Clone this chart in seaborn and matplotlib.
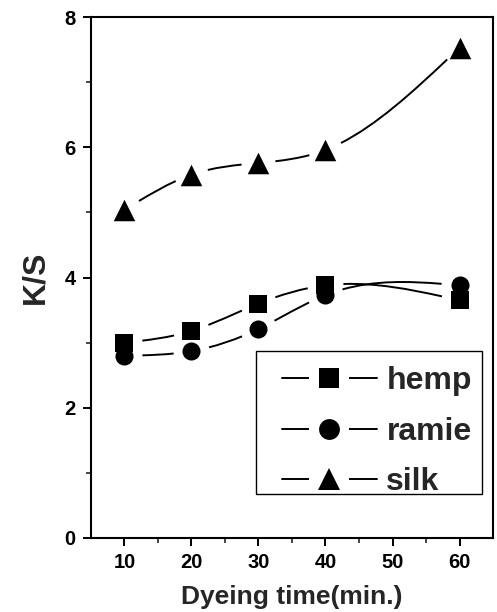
import numpy as np
import pandas as pd
import matplotlib
matplotlib.use("Agg")
import matplotlib.pyplot as plt
import seaborn as sns
from matplotlib.path import Path
from matplotlib.patches import PathPatch, Rectangle
from matplotlib.lines import Line2D
from matplotlib.legend_handler import HandlerTuple

# ---- data ----
time = [10, 20, 30, 40, 60]
hemp = [3.00, 3.18, 3.60, 3.88, 3.65]
ramie = [2.80, 2.87, 3.21, 3.73, 3.88]
silk = [5.04, 5.58, 5.76, 5.96, 7.53]
series_names = ["hemp", "ramie", "silk"]
x_ticks = [10, 20, 30, 40, 50, 60]
y_ticks = [0, 2, 4, 6, 8]

sns.set_theme(style="ticks")
plt.rcParams["font.family"] = ["Liberation Sans", "DejaVu Sans"]
plt.rcParams["font.weight"] = "bold"

fig = plt.figure(figsize=(4.97, 6.12), dpi=100)
ax = fig.add_axes([0.183, 0.121, 0.809, 0.851])
ax.set_xlim(5, 65)
ax.set_ylim(0, 8)


def spline_slopes(x, y):
    x = np.asarray(x, float)
    y = np.asarray(y, float)
    n = len(x)
    h = np.diff(x)
    d = np.diff(y) / h
    A = np.zeros((n, n))
    b = np.zeros(n)
    A[0, 0] = 1
    A[-1, -1] = 1
    for i in range(1, n - 1):
        A[i, i - 1] = h[i - 1]
        A[i, i] = 2 * (h[i - 1] + h[i])
        A[i, i + 1] = h[i]
        b[i] = 6 * (d[i] - d[i - 1])
    M = np.linalg.solve(A, b)
    m = np.empty(n)
    m[:-1] = d - h * (2 * M[:-1] + M[1:]) / 6
    m[-1] = d[-1] + h[-1] * (M[-2] + 2 * M[-1]) / 6
    return m


def split_bezier(P, t):
    P = np.asarray(P, float)
    a = P[:-1] * (1 - t) + P[1:] * t
    b = a[:-1] * (1 - t) + a[1:] * t
    c = b[:-1] * (1 - t) + b[1:] * t
    left = np.array([P[0], a[0], b[0], c[0]])
    right = np.array([c[0], b[1], a[2], P[3]])
    return left, right


def bezier_param_at(Pdisp, dist, from_end=False):
    ts = np.linspace(0, 1, 201)[:, None]
    B = ((1 - ts) ** 3 * Pdisp[0] + 3 * (1 - ts) ** 2 * ts * Pdisp[1]
         + 3 * (1 - ts) * ts ** 2 * Pdisp[2] + ts ** 3 * Pdisp[3])
    seg = np.hypot(*np.diff(B, axis=0).T)
    cum = np.concatenate([[0], np.cumsum(seg)])
    target = cum[-1] - dist if from_end else dist
    return float(np.interp(target, cum, ts[:, 0]))


def spline_segments(x, y, gap_px, lw):
    m = spline_slopes(x, y)
    verts, codes = [], []
    for i in range(len(x) - 1):
        h = x[i + 1] - x[i]
        P = np.array([(x[i], y[i]),
                      (x[i] + h / 3, y[i] + m[i] * h / 3),
                      (x[i + 1] - h / 3, y[i + 1] - m[i + 1] * h / 3),
                      (x[i + 1], y[i + 1])])
        Pd = ax.transData.transform(P)
        t0 = bezier_param_at(Pd, gap_px)
        t1 = bezier_param_at(Pd, gap_px, from_end=True)
        left, _ = split_bezier(P, t1)
        _, sub = split_bezier(left, t0 / t1)
        verts += [tuple(p) for p in sub]
        codes += [Path.MOVETO, Path.CURVE4, Path.CURVE4, Path.CURVE4]
    return PathPatch(Path(verts, codes), facecolor="none", edgecolor="black",
                     lw=lw, capstyle="butt", transform=ax.transData)


series = {"hemp": hemp, "ramie": ramie, "silk": silk}
markers = {"hemp": "s", "ramie": "o", "silk": "^"}
msize = {"hemp": 13, "ramie": 13, "silk": 15.5}
gaps = {"hemp": 18, "ramie": 18, "silk": 17}
lw = 1.4

df = pd.DataFrame({"time": time * 3,
                   "ks": hemp + ramie + silk,
                   "fiber": sum([[n] * len(time) for n in series_names], [])})

for name in series_names:
    ax.add_patch(spline_segments(time, series[name], gaps[name], lw))
for name in series_names:
    sub = df[df.fiber == name]
    sns.scatterplot(data=sub, x="time", y="ks", marker=markers[name],
                    s=msize[name] ** 2, color="black", edgecolor="black",
                    linewidth=0, ax=ax, zorder=3, legend=False)

ax.set_xlim(5, 65)
ax.set_ylim(0, 8)
ax.set_xticks(x_ticks)
ax.set_yticks(y_ticks)
ax.set_xticks([15, 25, 35, 45, 55], minor=True)
ax.set_yticks([1, 3, 5, 7], minor=True)
ax.tick_params(which="major", length=6, width=1.4, direction="out",
               labelsize=14.5, pad=5, colors="black")
ax.tick_params(which="minor", length=3.5, width=1.2, direction="out")
for lab in ax.get_xticklabels() + ax.get_yticklabels():
    lab.set_fontweight("bold")
for sp in ax.spines.values():
    sp.set_visible(True)
    sp.set_linewidth(1.5)
    sp.set_color("black")

ax.set_xlabel("Dyeing time(min.)", fontsize=19, fontweight="bold", labelpad=9)
ax.set_ylabel("K/S", fontsize=23, fontweight="bold", labelpad=10)

# legend frame (reference box position)
ax.add_patch(Rectangle((0.410, 0.085), 0.563, 0.2745, transform=ax.transAxes,
                       facecolor="white", edgecolor="black", lw=1.0, zorder=4))

# flat white bar used as the gap in each legend line
gap_marker = Path([(-1, -0.25), (1, -0.25), (1, 0.25), (-1, 0.25), (-1, -0.25)],
                  [Path.MOVETO, Path.LINETO, Path.LINETO, Path.LINETO, Path.CLOSEPOLY])

handles = []
for name in series_names:
    lm = 16 if name == "silk" else 15
    h_line = Line2D([0], [0], color="black", lw=lw)
    h_gap = Line2D([0], [0], marker=gap_marker, ls="", color="white",
                   markersize=29, markeredgewidth=0)
    h_mark = Line2D([0], [0], marker=markers[name], ls="", color="black",
                    markersize=lm, markeredgewidth=0)
    handles.append((h_line, h_gap, h_mark))

leg = ax.legend(handles, series_names,
                handler_map={tuple: HandlerTuple(ndivide=1, pad=0)},
                loc="center left", bbox_to_anchor=(0.475, 0.204),
                prop={"size": 23, "weight": "bold"}, handlelength=2.97,
                handletextpad=0.3, labelspacing=0.64, borderpad=0,
                borderaxespad=0, frameon=False)
leg.set_zorder(5)

fig.savefig("out.png", dpi=100)
